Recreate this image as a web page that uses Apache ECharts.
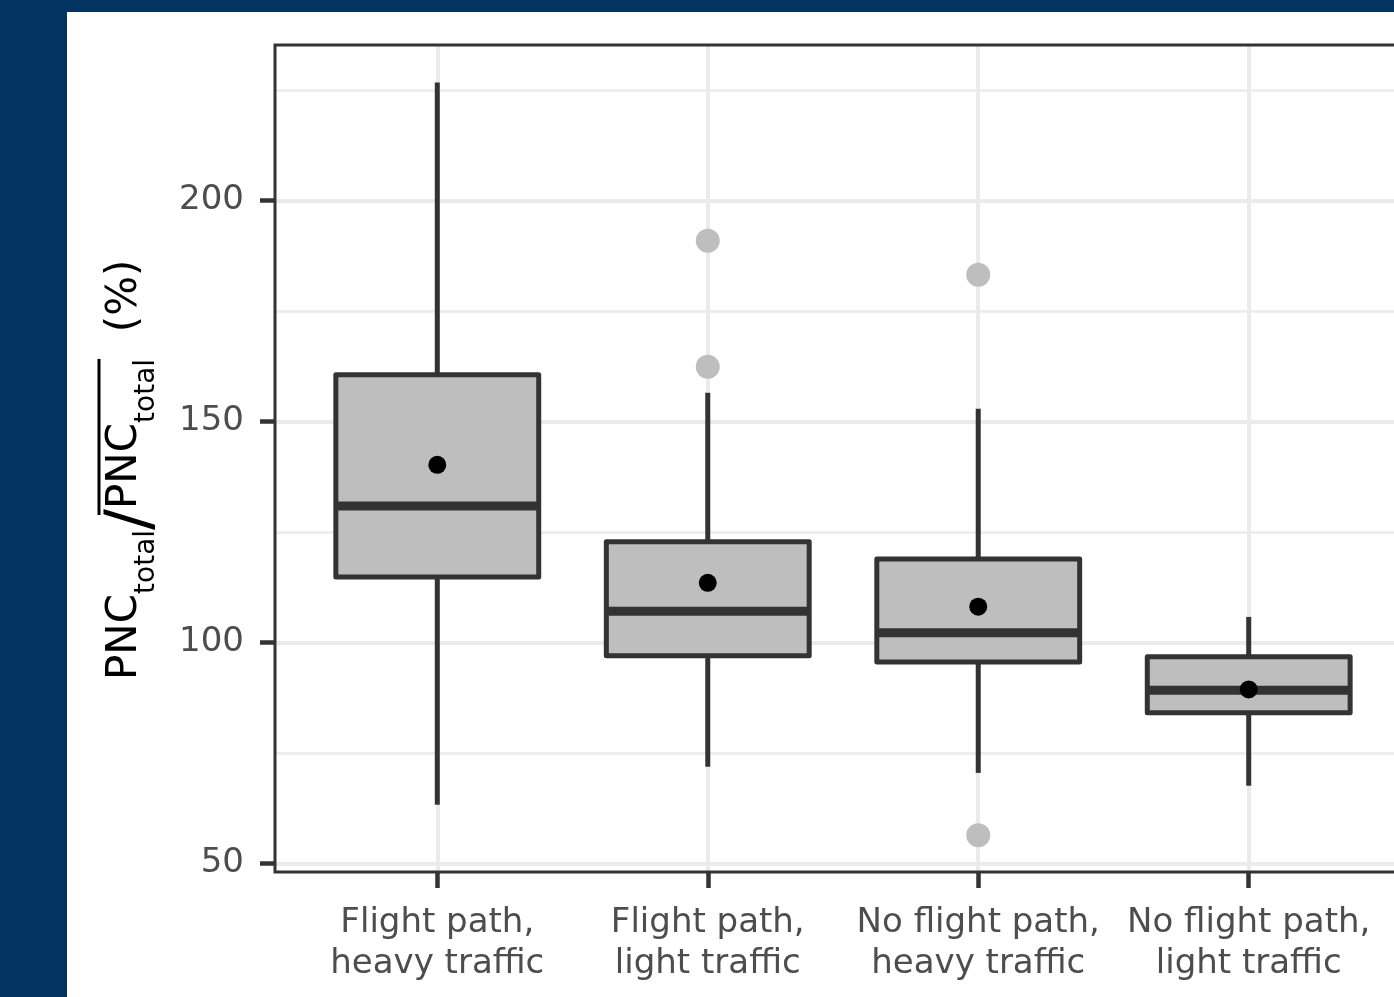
<!DOCTYPE html>
<html>
<head>
<meta charset="utf-8">
<script src="https://cdn.jsdelivr.net/npm/echarts@6/dist/echarts.min.js"></script>
<style>
  html, body { margin: 0; padding: 0; width: 1394px; height: 997px; overflow: hidden; background: #023361; }
  #panel { position: absolute; left: 67px; top: 12px; right: 0; bottom: 0; background: #ffffff; }
  #chart { position: absolute; left: 0; top: 0; width: 1420px; height: 997px; }
</style>
</head>
<body>
<div id="panel"></div>
<div id="chart"></div>
<script>
// Site groups shown on the x axis
const categories = [
  'Flight path,\nheavy traffic',
  'Flight path,\nlight traffic',
  'No flight path,\nheavy traffic',
  'No flight path,\nlight traffic'
];
// Box statistics per group: [lower whisker, Q1, median, Q3, upper whisker]
const lowerWhisker = [63.3, 71.9, 70.5, 67.6];
const q1Values     = [114.8, 97.0, 95.6, 84.1];
const medians      = [130.9, 107.1, 102.2, 89.2];
const q3Values     = [160.6, 122.8, 118.9, 96.8];
const upperWhisker = [226.7, 156.5, 152.9, 105.8];
// Group means (black dots)
const means = [140.2, 113.5, 108.1, 89.4];
// Outliers: [group number, value]
const outliers = [[2, 190.9], [2, 162.4], [3, 183.2], [3, 56.4]];
// Axis ticks and limits
const yTicks = [50, 100, 150, 200];
const yRange = [48.08, 235.2];
const xRange = [0.4, 4.6];
const xTicks = [1, 2, 3, 4];

const boxData = categories.map((c, i) => [i + 1, lowerWhisker[i], q1Values[i], medians[i], q3Values[i], upperWhisker[i]]);
const meanData = means.map((m, i) => [i + 1, m]);

const INK = '#333333';
const BOX_FILL = '#bebebe';
const LABEL_FONT = 'DejaVu Sans';

function renderBox(params, api) {
  const x = api.value(0);
  const lo = api.coord([x, api.value(1)]);
  const q1 = api.coord([x, api.value(2)]);
  const md = api.coord([x, api.value(3)]);
  const q3 = api.coord([x, api.value(4)]);
  const hi = api.coord([x, api.value(5)]);
  const half = api.size([0.75, 0])[0] / 2;
  return {
    type: 'group',
    children: [
      { type: 'line', shape: { x1: hi[0], y1: hi[1], x2: q3[0], y2: q3[1] }, style: { stroke: INK, lineWidth: 5 } },
      { type: 'line', shape: { x1: q1[0], y1: q1[1], x2: lo[0], y2: lo[1] }, style: { stroke: INK, lineWidth: 5 } },
      { type: 'rect', shape: { x: q3[0] - half, y: q3[1], width: half * 2, height: q1[1] - q3[1] },
        style: { fill: BOX_FILL, stroke: INK, lineWidth: 5, lineJoin: 'round' } },
      { type: 'line', shape: { x1: md[0] - half, y1: md[1], x2: md[0] + half, y2: md[1] }, style: { stroke: INK, lineWidth: 9 } }
    ]
  };
}

// Y axis title: PNC_total / overline(PNC_total)  (%)
const F = 42, S = 28;
const meas = document.createElement('canvas').getContext('2d');
function textWidth(t, size) { meas.font = size + 'px "' + LABEL_FONT + '"'; return meas.measureText(t).width; }
const titleParts = [];
let cursor = 0;
function addText(t, size, dy) {
  titleParts.push({
    type: 'text', x: cursor, y: dy,
    style: { text: t, fontSize: size, fontFamily: LABEL_FONT, fill: '#000000', align: 'left', verticalAlign: 'bottom' }
  });
  cursor += textWidth(t, size);
}
addText('PNC', F, 0);
addText('total', S, 15);
addText('/', 62, 18);
const barStart = cursor - 6;
addText('PNC', F, 0);
addText('total', S, 15);
const barEnd = cursor;
addText('  (%)', F, 0);
titleParts.push({ type: 'line', shape: { x1: barStart, y1: -47, x2: barEnd, y2: -47 }, style: { stroke: '#000000', lineWidth: 3 } });

const chart = echarts.init(document.getElementById('chart'), null, { renderer: 'canvas' });
chart.setOption({
  backgroundColor: 'transparent',
  animation: false,
  grid: {
    show: true, z: 5, left: 275, top: 45, width: 1136, height: 827,
    backgroundColor: 'transparent', borderColor: INK, borderWidth: 3
  },
  xAxis: {
    type: 'value', min: xRange[0], max: xRange[1], minInterval: 1, maxInterval: 1,
    axisLine: { show: false },
    axisTick: { show: true, customValues: xTicks, length: 16, lineStyle: { color: INK, width: 4.5 } },
    axisLabel: {
      customValues: xTicks, margin: 31, fontFamily: LABEL_FONT, fontSize: 34, lineHeight: 41, color: '#4d4d4d',
      formatter: v => categories[Math.round(v) - 1] || ''
    },
    splitLine: { show: true, lineStyle: { color: '#ebebeb', width: 4 } }
  },
  yAxis: {
    type: 'value', min: yRange[0], max: yRange[1], minInterval: 50, maxInterval: 50,
    axisLine: { show: false },
    axisTick: { show: true, customValues: yTicks, length: 15, lineStyle: { color: INK, width: 4.5 } },
    axisLabel: { customValues: yTicks, margin: 31, padding: [6, 0, 0, 0], fontFamily: LABEL_FONT, fontSize: 34, color: '#4d4d4d' },
    splitLine: { show: true, lineStyle: { color: '#ebebeb', width: 4 } },
    minorTick: { show: false, splitNumber: 2 },
    minorSplitLine: { show: true, lineStyle: { color: '#ebebeb', width: 2.5 } }
  },
  graphic: [{
    type: 'group', x: 146, y: 680, rotation: Math.PI / 2, children: titleParts
  }],
  series: [
    {
      type: 'custom', renderItem: renderBox, data: boxData, z: 2,
      encode: { x: 0, y: [1, 2, 3, 4, 5] }
    },
    {
      type: 'scatter', data: outliers, z: 3, symbol: 'circle', symbolSize: 24,
      itemStyle: { color: BOX_FILL, opacity: 1 }
    },
    {
      type: 'scatter', data: meanData, z: 4, symbol: 'circle', symbolSize: 18,
      itemStyle: { color: '#000000', opacity: 1 }
    }
  ]
});
</script>
</body>
</html>
